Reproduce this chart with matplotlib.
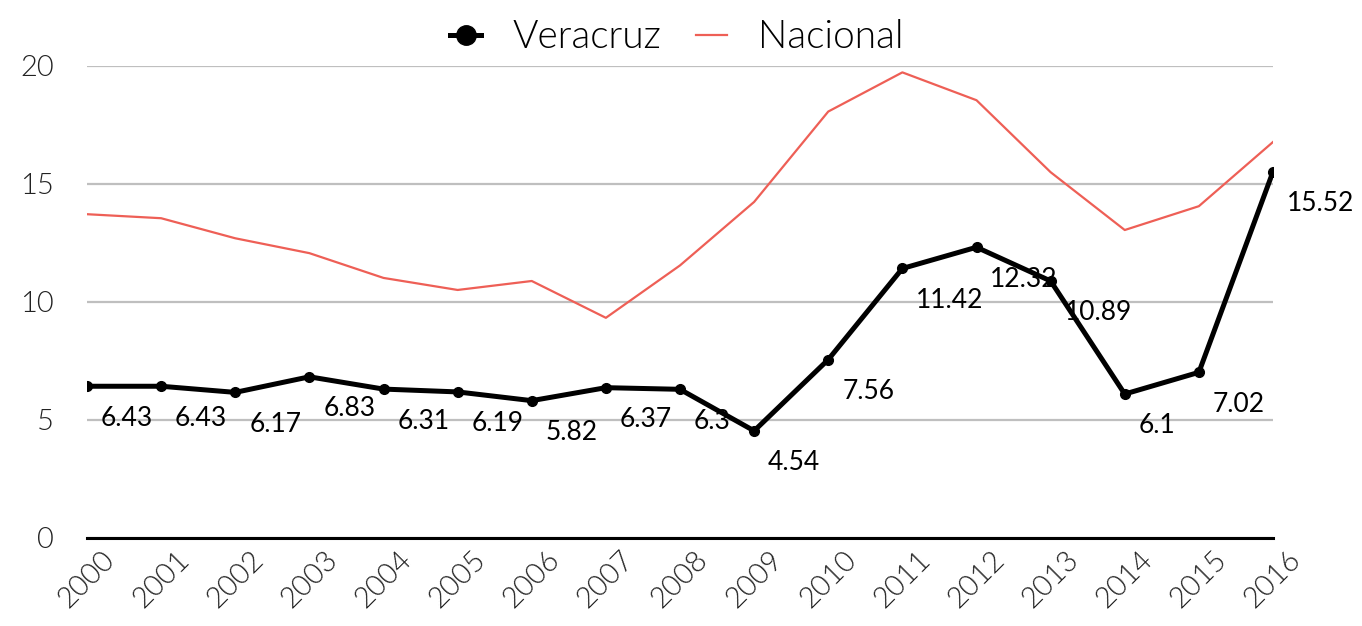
import numpy as np
import matplotlib
matplotlib.use("Agg")
import matplotlib.pyplot as plt

years = [2000, 2001, 2002, 2003, 2004, 2005, 2006, 2007, 2008,
         2009, 2010, 2011, 2012, 2013, 2014, 2015, 2016]
veracruz = [6.43, 6.43, 6.17, 6.83, 6.31, 6.19, 5.82, 6.37, 6.3,
            4.54, 7.56, 11.42, 12.32, 10.89, 6.1, 7.02, 15.52]
nacional = [13.72, 13.55, 12.70, 12.07, 11.02, 10.51, 10.89, 9.33, 11.55,
            14.24, 18.07, 19.73, 18.55, 15.50, 13.05, 14.06, 16.78]
yticks = [0, 5, 10, 15, 20]

label_font = "Lato"

fig = plt.figure(figsize=(13.62, 6.26), dpi=100)
ax = fig.add_axes([87 / 1362, 1 - 538 / 626, (1273 - 87) / 1362, (538 - 66) / 626])

ln_nac, = ax.plot(years, nacional, color="#ee5f56", lw=1.6, label="Nacional", zorder=3)
ln_ver, = ax.plot(years, veracruz, color="black", lw=3.6, marker="o", ms=7,
                  label="Veracruz", zorder=4)

# data labels sit below-right of each Veracruz point
for x, v in zip(years, veracruz):
    ax.annotate(f"{v:g}", (x, v), xytext=(10, -23), textcoords="offset points",
                ha="left", va="center", fontsize=19, family=label_font,
                color="black", zorder=5, annotation_clip=False)

ax.set_xlim(years[0], years[-1])
ax.set_ylim(0, 20)
ax.set_yticks(yticks)
ax.set_xticks(years)
ax.set_xticklabels([str(y) for y in years], rotation=45, ha="center",
                   fontsize=21, family=label_font, fontweight=300)
ax.set_yticklabels([str(t) for t in yticks], fontsize=21, family=label_font,
                   fontweight=300)
ax.tick_params(axis="both", length=0, colors="#222222")
ax.tick_params(axis="y", pad=24)
ax.tick_params(axis="x", pad=6)

ax.grid(axis="y", color="#bfbfbf", lw=1.6)
ax.set_axisbelow(True)
for s in ["top", "right", "left"]:
    ax.spines[s].set_visible(False)
ax.spines["bottom"].set_color("black")
ax.spines["bottom"].set_linewidth(2.2)
ax.spines["bottom"].set_zorder(2)

fig.legend([ln_ver, ln_nac], ["Veracruz", "Nacional"], loc="upper center",
           bbox_to_anchor=(0.497, 1.025), ncol=2, frameon=False,
           handlelength=0.8, columnspacing=0.9, handletextpad=0.8,
           markerscale=2.0,
           prop={"family": label_font, "size": 28, "weight": 300})

fig.savefig("out.png", dpi=100)
